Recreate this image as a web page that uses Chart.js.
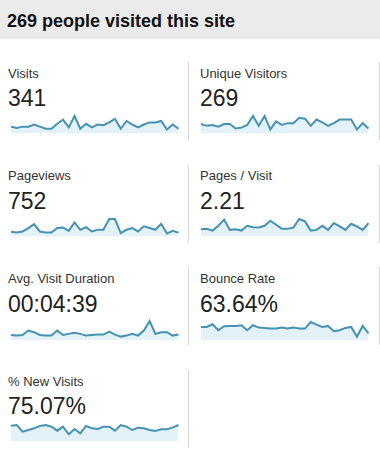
<!DOCTYPE html>
<html>
<head>
<meta charset="utf-8">
<script src="https://cdn.jsdelivr.net/npm/chart.js@4"></script>
<style>
  html, body { margin:0; padding:0; background:#fff; }
  body { width:380px; height:454px; position:relative; overflow:hidden;
         font-family:"Liberation Sans", Arial, sans-serif; }
  #hdr { position:absolute; left:0; top:0; width:380px; height:39px; background:#ebebeb; }
  #hdr span { position:absolute; left:7px; top:12px; font-size:18px; line-height:18px;
              font-weight:bold; color:#111; white-space:nowrap; }
  .cell { position:absolute; height:78px; border-right:1px solid #d6d6d6; }
  .lbl { position:absolute; font-size:13px; line-height:13px; color:#333; white-space:nowrap; }
  .val { position:absolute; font-size:23px; line-height:23px; color:#222; white-space:nowrap; }
  canvas { position:absolute; }
</style>
</head>
<body>
<div id="hdr"><span id="title"></span></div>
<script>
// ---- data ----
const title = "269 people visited this site";
const metricNames = ["Visits", "Unique Visitors", "Pageviews", "Pages / Visit",
                     "Avg. Visit Duration", "Bounce Rate", "% New Visits"];
const metricTotals = ["341", "269", "752", "2.21", "00:04:39", "63.64%", "75.07%"];
const days = [1,2,3,4,5,6,7,8,9,10,11,12,13,14,15,16,17,18,19,20,21,22,23,24,25,26,27,28,29,30];

const visits = [9,7,9,9,12,9,6,6,13,19,8,24,6,13,8,12,11,15,20,6,17,12,8,12,15,15,17,5,12,6];
const uniqueVisitors = [10,8,9,7,10,10,5,6,9,19,8,19,4,13,9,11,11,17,16,8,15,12,8,11,15,15,15,4,11,5];
const pageviews = [15,12,16,28,42,16,12,12,28,30,18,48,22,31,16,22,22,60,60,10,22,28,16,34,28,22,43,9,18,12];
const pagesPerVisit = [1.61,1.69,1.28,2.41,3.86,1.45,1.61,1.28,2.41,2.09,2.01,2.41,3.62,2.65,1.69,1.69,2.01,4.02,3.45,1.28,1.45,2.41,1.45,3.05,2.25,1.45,2.89,2.25,1.45,3.05];
const avgVisitDuration = [221,192,221,413,340,221,192,192,413,221,266,310,266,192,221,236,236,369,236,148,192,266,192,413,827,266,340,340,192,236];
const bounceRate = [68.0,68.0,81.6,51.0,71.4,73.1,73.1,76.5,51.0,76.5,64.6,62.9,59.5,59.5,64.6,59.5,64.6,59.5,59.5,93.5,79.9,68.0,73.1,45.9,51.0,62.9,68.0,17.0,73.1,34.0];
const newVisits = [90.7,94.7,55.2,65.1,75.0,88.8,94.7,84.8,61.2,84.8,39.5,71.0,45.4,88.8,75.0,71.0,84.8,84.8,61.2,94.7,84.8,65.1,78.9,75.0,65.1,59.2,69.1,69.1,80.9,94.7];

const series = [visits, uniqueVisitors, pageviews, pagesPerVisit, avgVisitDuration, bounceRate, newVisits];

// ---- layout / style ----
const LINE = "#4592b2";
const FILL = "#e3f1f9";
const ROW0 = 62, PITCH = 102.7;
const sparkH = [17, 17, 17, 17, 19, 18, 16];   // plot heights (px)
const sparkB = [71, 71, 71.3, 71.3, 73, 72.6, 70.9]; // plot bottom offset in cell

document.getElementById('title').textContent = title;

metricNames.forEach((name, i) => {
  const col = i % 2, row = Math.floor(i / 2);
  const top = ROW0 + row * PITCH;
  const cellLeft = col === 0 ? 0 : 189;
  const cellW = col === 0 ? 188 : 190;
  const cell = document.createElement('div');
  cell.className = 'cell';
  cell.style.left = cellLeft + 'px';
  cell.style.top = Math.round(top) + 'px';
  cell.style.width = cellW + 'px';
  document.body.appendChild(cell);

  const tx = col === 0 ? 8 : 200;
  const lbl = document.createElement('div');
  lbl.className = 'lbl';
  lbl.textContent = name;
  lbl.style.left = tx + 'px';
  lbl.style.top = Math.round(top + 15.7 - 11) + 'px';
  document.body.appendChild(lbl);

  const val = document.createElement('div');
  val.className = 'val';
  val.textContent = metricTotals[i];
  val.style.left = (tx) + 'px';
  val.style.top = Math.round(top + 44.7 - 19.5) + 'px';
  document.body.appendChild(val);

  const h = sparkH[i];
  const cv = document.createElement('canvas');
  const cw = 170;
  cv.width = cw; cv.height = h + 3;
  cv.style.width = cw + 'px'; cv.style.height = (h + 3) + 'px';
  cv.style.left = (col === 0 ? 10 : 200) + 'px';
  cv.style.top = Math.round(top + sparkB[i] - h - 2) + 'px';
  document.body.appendChild(cv);

  const data = series[i];
  new Chart(cv.getContext('2d'), {
    type: 'line',
    data: {
      labels: days,
      datasets: [{
        data: data,
        borderColor: LINE,
        backgroundColor: FILL,
        borderWidth: 2,
        fill: 'start',
        pointRadius: 0,
        tension: 0,
        clip: false
      }]
    },
    options: {
      responsive: false,
      maintainAspectRatio: false,
      animation: false,
      devicePixelRatio: 1,
      events: [],
      layout: { padding: { top: 2, bottom: 1, left: 1, right: 1.5 } },
      plugins: { legend: { display: false }, tooltip: { enabled: false } },
      scales: {
        x: { display: false },
        y: { display: false, min: 0, max: Math.max(...data) }
      }
    }
  });
});
</script>
</body>
</html>
